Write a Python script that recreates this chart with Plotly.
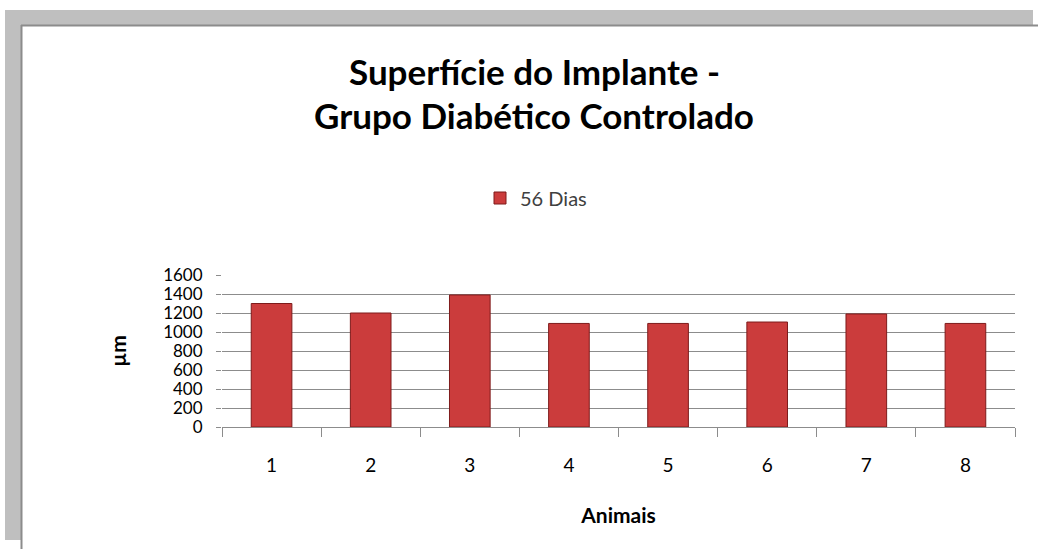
import plotly.graph_objects as go

categories = ["1", "2", "3", "4", "5", "6", "7", "8"]
values_56 = [1300, 1200, 1390, 1090, 1090, 1105, 1190, 1090]
y_ticks = [0, 200, 400, 600, 800, 1000, 1200, 1400, 1600]
series_name = "56 Dias"
title_lines = ["Superfície do Implante -", "Grupo Diabético Controlado"]

W, H = 1038, 549
L, R, T, B = 222, 1015, 275, 427
pw, ph = R - L, B - T

def px(x):
    return (x - L) / pw

def py(y):
    return (B - y) / ph

font_family = "Lato, 'Open Sans', sans-serif"

fig = go.Figure()
fig.add_trace(go.Bar(
    x=categories, y=values_56, name=series_name,
    marker=dict(color="#CB3C3C", line=dict(color="#7E1B1B", width=1)),
))

shapes = [
    dict(type="rect", xref="paper", yref="paper", layer="below",
         x0=px(5), x1=px(1033), y0=py(540), y1=py(10),
         fillcolor="#BFBFBF", line=dict(width=0)),
    dict(type="rect", xref="paper", yref="paper", layer="below",
         x0=px(21), x1=px(1040), y0=py(551), y1=py(25),
         fillcolor="#FFFFFF", line=dict(width=0)),
    dict(type="line", xref="paper", yref="paper", layer="below",
         x0=px(21), x1=px(1040), y0=py(25.5), y1=py(25.5),
         line=dict(color="#8C8C8C", width=2)),
    dict(type="line", xref="paper", yref="paper", layer="below",
         x0=px(21.5), x1=px(21.5), y0=py(25), y1=py(551),
         line=dict(color="#8C8C8C", width=2)),
]

annotations = [
    dict(text="<b>%s</b>" % title_lines[0], xref="paper", yref="paper",
         x=px(534), y=py(71), showarrow=False, xanchor="center", yanchor="middle",
         font=dict(size=35, color="#000000", family=font_family)),
    dict(text="<b>%s</b>" % title_lines[1], xref="paper", yref="paper",
         x=px(534), y=py(115), showarrow=False, xanchor="center", yanchor="middle",
         font=dict(size=35, color="#000000", family=font_family)),
]

fig.update_layout(
    width=W, height=H,
    margin=dict(l=L, r=W - R, t=T, b=H - B, pad=0),
    paper_bgcolor="#FFFFFF", plot_bgcolor="rgba(0,0,0,0)",
    shapes=shapes, annotations=annotations,
    bargap=0.59,
    showlegend=True,
    legend=dict(orientation="h", x=px(536), xanchor="center", y=py(198), yanchor="middle",
                font=dict(size=20, color="#404040", family=font_family),
                bgcolor="rgba(0,0,0,0)", itemwidth=30),
    font=dict(family=font_family, color="#000000"),
)

fig.update_xaxes(
    type="category", tickson="boundaries", ticks="outside", ticklen=9,
    tickcolor="#8C8C8C", showline=True, linecolor="#8C8C8C", linewidth=1,
    showgrid=False, tickfont=dict(size=19, color="#000000"), ticklabelstandoff=21,
    title=dict(text="<b>Animais</b>", font=dict(size=21, color="#000000"), standoff=33),
)
fig.update_yaxes(
    range=[0, 1600], tickvals=y_ticks, ticks="outside", ticklen=5, tickcolor="#8C8C8C",
    showgrid=True, gridcolor="#8C8C8C", gridwidth=1, showline=False, zeroline=False,
    tickfont=dict(size=17, color="#000000"), ticklabelstandoff=10,
    title=dict(text="<b>µm</b>", font=dict(size=21, color="#000000"), standoff=30),
)

fig.write_html("out.html", config={"displayModeBar": False},
               post_script="document.body.style.margin='0';")
